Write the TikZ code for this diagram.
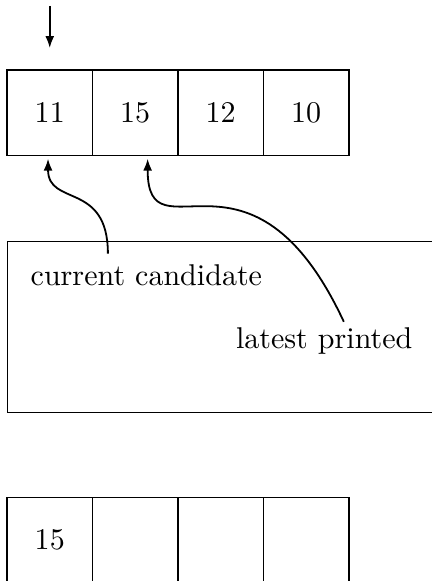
\documentclass[tikz,border=0pt]{standalone}
\usepackage{tikz}
\usetikzlibrary{positioning, arrows.meta}
\tikzset{
    cell/.style={draw, minimum size=1cm, inner sep=0pt},
    pointer/.style={->, line width=0.6pt},
    >={Latex[length=4pt,width=3pt]}
}

\begin{document}
\begin{tikzpicture}
    \useasboundingbox (-0.082,0.819) rectangle (4.96,-5.977);
    % input row
    \foreach \v [count=\i] in {11,15,12,10}
    {
        \node[cell] (in\i) at (\i-0.5,-0.5) {\v};
    }
    \coordinate (ptr) at (0.5,0.75);
    \draw[pointer] (ptr) -- ([yshift=0.25cm]in1.north);
    % state
    \node[draw, anchor=north west, minimum width=5.3cm, minimum height=2cm, inner sep=0pt] (state) at (0,-2) {};
    \node[anchor=base] (cand) at (1.63,-2.515) {current candidate};
    \node[anchor=base] (printed) at (3.71,-3.263) {latest printed};
    \draw[pointer] ([xshift=-0.45cm]cand.north) to[out=90, in=-90, out looseness=1.65, in looseness=1.1] ([shift={(-0.02,-0.03)}]in1.south);
    \draw[pointer] ([shift={(0.23,-0.05)}]printed.north) to[out=115, in=-90, out looseness=2.2, in looseness=1.05] ([shift={(0.145,-0.03)}]in2.south);
    % output row
    \foreach \v [count=\i] in {15,{},{},{}}
    {
        \node[cell] (out\i) at (\i-0.5,-5.5) {\v};
    }
\end{tikzpicture}
\end{document}
